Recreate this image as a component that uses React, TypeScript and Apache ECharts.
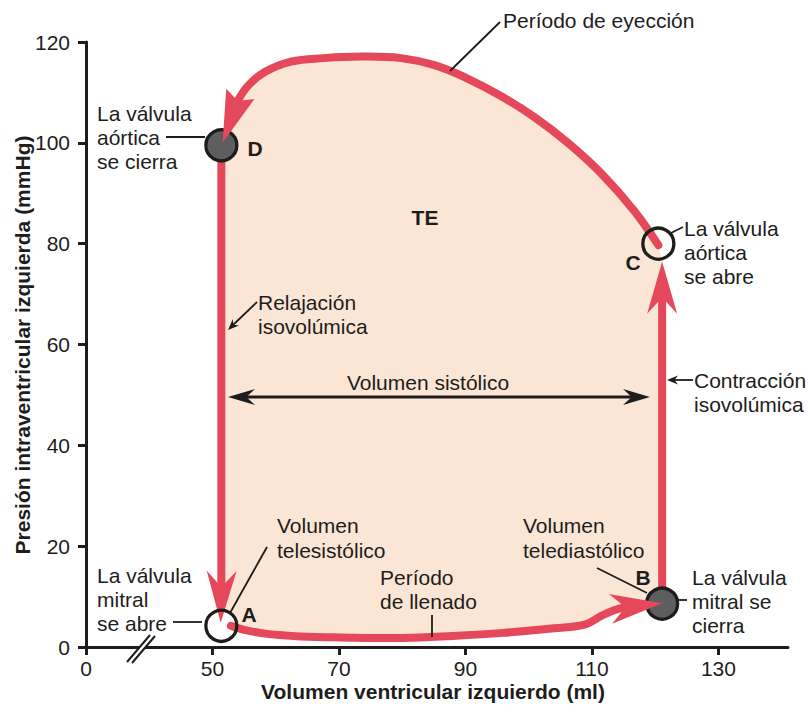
import React, { useEffect, useRef } from 'react';
import * as echarts from 'echarts';

// ---- Data (volume in ml, pressure in mmHg) ----
const xTickLabelZero = 30; // axis value shown as "0" (broken axis)
const xTickValues = [30, 50, 70, 90, 110, 130];

// Ejection period: from C (aortic valve opens) over the top to D
const ejectionVolume = [120.5, 116.7, 111.5, 106.3, 100.9, 95.6, 90.4, 85.1, 79.8, 73.5, 67.6, 62.4, 58.2, 55.6, 54.0, 51.6];
const ejectionPressure = [79.7, 86.5, 93.9, 99.9, 105.1, 109.3, 112.7, 115.4, 116.8, 117.1, 116.8, 116.1, 114.0, 111.3, 108.3, 100.0];

// Isovolumic relaxation: D down to A
const relaxVolume = [51.4, 51.4, 51.3];
const relaxPressure = [99.5, 11.9, 4.8];

// Filling period: A to B
const fillingVolume = [52.9, 55.0, 58.7, 64.0, 70.0, 80.0, 88.0, 96.0, 104.0, 109.0, 111.5, 113.5, 115.3, 121.1];
const fillingPressure = [4.2, 3.4, 2.6, 2.1, 1.9, 1.8, 2.2, 2.8, 3.7, 4.5, 6.2, 7.3, 7.9, 8.7];

// Isovolumic contraction: B up to C
const contractVolume = [121.1, 121.1, 121.1];
const contractPressure = [8.6, 69.3, 76.4];

// Valve events A, B, C, D
const valveVolume = [51.4, 121.1, 120.5, 51.4];
const valvePressure = [4.2, 8.6, 80.0, 99.5];

const FONT = '"Liberation Sans", Arial, Helvetica, sans-serif';
const INK = '#1d1d1b';
const RED = '#e4485a';
const PEACH = '#fbe6d5';
const GRAY = '#5e5e61';

type Pt = number[];

function arrowHead(tip: Pt, from: Pt, L: number, W: number, notch?: Pt) {
  const dx = tip[0] - from[0];
  const dy = tip[1] - from[1];
  const len = Math.hypot(dx, dy) || 1;
  const ux = dx / len;
  const uy = dy / len;
  const bx = tip[0] - ux * L;
  const by = tip[1] - uy * L;
  const px = -uy;
  const py = ux;
  const n = notch || [tip[0] - ux * L * 0.68, tip[1] - uy * L * 0.68];
  return [tip, [bx + px * W, by + py * W], n, [bx - px * W, by - py * W]];
}

function renderLoop(_params: any, api: any) {
  const P = (vs: number[], ps: number[]) => vs.map((v, i) => api.coord([v, ps[i]]) as Pt);
  const ej = P(ejectionVolume, ejectionPressure);
  const lf = P(relaxVolume, relaxPressure);
  const fl = P(fillingVolume, fillingPressure);
  const rt = P(contractVolume, contractPressure);
  const valves = P(valveVolume, valvePressure);
  const [A, B, C, D] = valves;

  const shaft = (pts: Pt[], smooth: number) => ({
    type: 'polyline',
    shape: { points: pts, smooth },
    style: { stroke: RED, lineWidth: 8, fill: null, lineCap: 'round', lineJoin: 'round' },
  });
  const head = (pts: Pt[]) => {
    const n = pts.length;
    return {
      type: 'polygon',
      shape: { points: arrowHead(pts[n - 1], pts[n - 2], 52, 15, pts[n - 2]) },
      style: { fill: RED },
    };
  };
  const disc = (c: Pt, fill: string) => ({
    type: 'circle',
    shape: { cx: c[0], cy: c[1], r: 15.5 },
    style: { fill, stroke: INK, lineWidth: 3.3 },
  });

  const children: any[] = [];
  children.push({
    type: 'polygon',
    shape: { points: [...fl, ...rt, ...ej, ...lf] },
    style: { fill: PEACH },
  });
  children.push({ type: 'circle', shape: { cx: A[0], cy: A[1], r: 15.5 }, style: { fill: '#ffffff' } });
  children.push(shaft(lf.slice(0, -1), 0));
  children.push(head(lf));
  children.push(shaft(rt.slice(0, -1), 0));
  children.push(head(rt));
  children.push(disc(D, GRAY));
  children.push(disc(B, GRAY));
  children.push(shaft(fl.slice(0, -1), 0.4));
  children.push(head(fl));
  children.push(shaft(ej.slice(0, -1), 0.4));
  children.push(head(ej));
  children.push(disc(A, 'transparent'));
  children.push(disc(C, 'transparent'));
  return { type: 'group', children };
}

function txt(text: string, x: number, y: number, opts: any = {}) {
  return {
    type: 'text',
    x,
    y,
    z: 20,
    silent: true,
    rotation: opts.rotation || 0,
    style: {
      text,
      fill: INK,
      fontSize: opts.size || 21,
      fontFamily: FONT,
      fontWeight: opts.bold ? 'bold' : 'normal',
      textAlign: opts.align || 'left',
      textVerticalAlign: 'middle',
    },
  };
}

function lines(textLines: string[], x: number, y0: number, dy: number, opts: any = {}) {
  return textLines.map((t, i) => txt(t, x, y0 + i * dy, opts));
}

function seg(x1: number, y1: number, x2: number, y2: number, w = 1.8) {
  return { type: 'line', z: 20, silent: true, shape: { x1, y1, x2, y2 }, style: { stroke: INK, lineWidth: w } };
}

function pointer(x1: number, y1: number, x2: number, y2: number, L: number, W: number) {
  return {
    type: 'polygon',
    z: 20,
    silent: true,
    shape: { points: arrowHead([x2, y2], [x1, y1], L, W) },
    style: { fill: INK },
  };
}

function buildGraphics() {
  const g: any[] = [];
  // axis titles
  g.push(txt('Volumen ventricular izquierdo (ml)', 433, 691, { bold: true, align: 'center' }));
  g.push(txt('Presión intraventricular izquierda (mmHg)', 22.5, 345, { bold: true, align: 'center', rotation: Math.PI / 2 }));
  // axis break
  g.push({
    type: 'polygon', z: 21, silent: true,
    shape: { points: [[129, 660], [150, 636], [155, 636], [134, 660]] },
    style: { fill: '#ffffff' },
  });
  g.push({ ...seg(127, 662, 150, 635, 2), z: 22 });
  g.push({ ...seg(132, 663, 155, 636, 2), z: 22 });

  // Ejection
  g.push(txt('Período de eyección', 503, 20));
  g.push(seg(500, 22, 450, 71));
  // D
  g.push(...lines(['La válvula', 'aórtica', 'se cierra'], 97, 113, 24));
  g.push(seg(166, 137, 205, 137));
  g.push(txt('D', 255, 148, { bold: true, align: 'center' }));
  // TE
  g.push(txt('TE', 425, 217, { bold: true, align: 'center' }));
  // C
  g.push(...lines(['La válvula', 'aórtica', 'se abre'], 684, 228, 24));
  g.push(seg(671, 233, 683, 227));
  g.push(txt('C', 633, 262, { bold: true, align: 'center' }));
  // Relaxation
  g.push(...lines(['Relajación', 'isovolúmica'], 258, 302, 24));
  g.push(seg(257, 302, 233, 325));
  g.push(pointer(257, 302, 228, 330, 11, 4.5));
  // Stroke volume
  g.push(txt('Volumen sistólico', 428, 382, { align: 'center' }));
  g.push(seg(240, 397, 638, 397, 3));
  g.push(pointer(650, 397, 228, 397, 27, 8));
  g.push(pointer(228, 397, 650, 397, 27, 8));
  // Contraction
  g.push(...lines(['Contracción', 'isovolúmica'], 694, 380, 24));
  g.push(seg(693, 380, 672, 380));
  g.push(pointer(693, 380, 667, 380, 11, 4.5));
  // End-systolic volume
  g.push(...lines(['Volumen', 'telesistólico'], 277, 525, 25));
  g.push(seg(267, 547, 230, 613));
  g.push(txt('A', 249, 614, { bold: true, align: 'center' }));
  // Mitral opens
  g.push(...lines(['La válvula', 'mitral', 'se abre'], 97, 575, 24));
  g.push(seg(173, 622, 202, 622));
  // Filling
  g.push(...lines(['Período', 'de llenado'], 380, 577, 24));
  g.push(seg(432, 615, 432, 637));
  // End-diastolic volume
  g.push(...lines(['Volumen', 'telediastólico'], 523, 525, 25));
  g.push(seg(597, 568, 647, 593));
  g.push(txt('B', 643, 577, { bold: true, align: 'center' }));
  // Mitral closes
  g.push(...lines(['La válvula', 'mitral se', 'cierra'], 692, 577, 24));
  g.push(seg(677, 600, 687, 600));
  return g;
}

export default function App() {
  const ref = useRef<HTMLDivElement>(null);
  useEffect(() => {
    if (!ref.current) return;
    const chart = echarts.init(ref.current, null, { renderer: 'svg' });
    const axisCommon = {
      type: 'value',
      axisLine: { show: true, onZero: false, lineStyle: { color: INK, width: 3 } },
      splitLine: { show: false },
    };
    chart.setOption({
      animation: false,
      backgroundColor: '#ffffff',
      grid: { left: 86, right: 20, top: 42, bottom: 65 },
      xAxis: {
        ...axisCommon,
        min: xTickLabelZero,
        max: 141,
        interval: 20,
        axisTick: { show: true, length: 8, customValues: xTickValues, lineStyle: { color: INK, width: 3 } },
        axisLabel: {
          fontSize: 21,
          fontFamily: FONT,
          color: INK,
          margin: 11,
          customValues: xTickValues,
          formatter: (v: number) => (v === xTickLabelZero ? '0' : String(v)),
        },
      },
      yAxis: {
        ...axisCommon,
        min: 0,
        max: 120,
        interval: 20,
        axisTick: { show: true, length: 8, lineStyle: { color: INK, width: 3 } },
        axisLabel: { fontSize: 21, fontFamily: FONT, color: INK, margin: 16 },
      },
      series: [
        {
          type: 'custom',
          coordinateSystem: 'cartesian2d',
          renderItem: renderLoop,
          data: [[xTickLabelZero, 0]],
          silent: true,
          clip: false,
          z: 2,
        },
      ],
      graphic: buildGraphics(),
    });
    return () => chart.dispose();
  }, []);
  return (
    <div
      ref={ref}
      style={{ position: 'fixed', left: 0, top: 0, width: 808, height: 712, background: '#fff' }}
    />
  );
}
